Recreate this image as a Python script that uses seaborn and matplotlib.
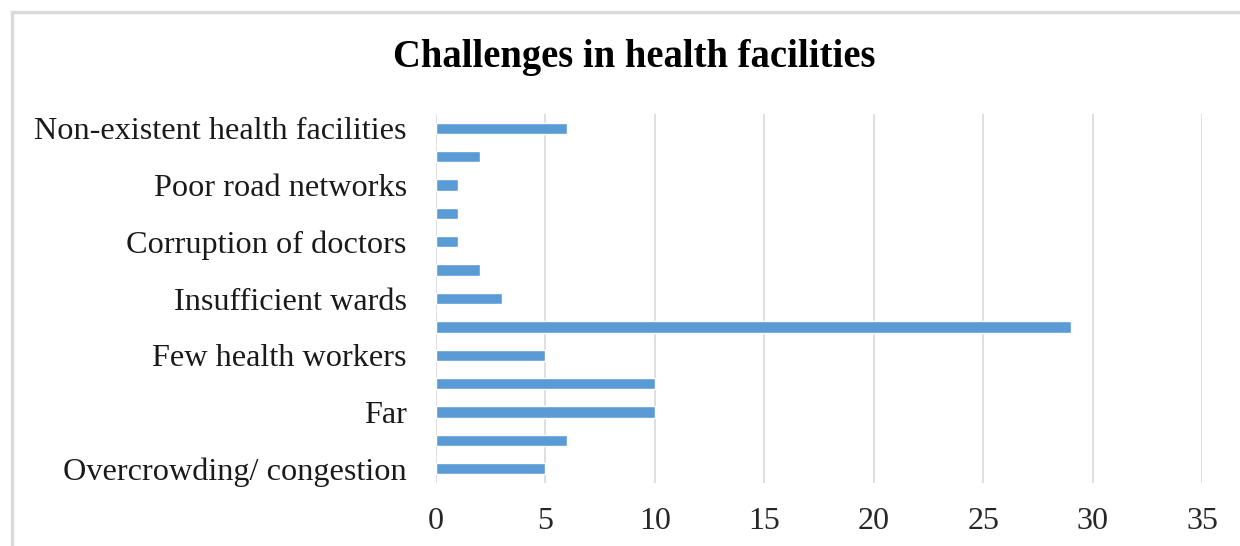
import matplotlib
matplotlib.use("Agg")
import matplotlib.pyplot as plt
import seaborn as sns
import pandas as pd
from matplotlib.patches import Rectangle

categories = [
    "Non-existent health facilities", "cat_12", "Poor road networks", "cat_10",
    "Corruption of doctors", "cat_8", "Insufficient wards", "cat_6",
    "Few health workers", "cat_4", "Far", "cat_2", "Overcrowding/ congestion",
]
tick_labels = [
    "Non-existent health facilities", "", "Poor road networks", "",
    "Corruption of doctors", "", "Insufficient wards", "",
    "Few health workers", "", "Far", "", "Overcrowding/ congestion",
]
values = [6, 2, 1, 1, 1, 2, 3, 29, 5, 10, 10, 6, 5]
x_ticks = [0, 5, 10, 15, 20, 25, 30, 35]

sns.set_theme(style="white")
plt.rcParams["font.family"] = ["Liberation Serif", "DejaVu Serif"]

df = pd.DataFrame({"category": categories, "value": values})

fig = plt.figure(figsize=(12.4, 5.46), dpi=100)
W, H = 1240, 546
ax = fig.add_axes([436 / W, 1 - 483 / H, (1202 - 436) / W, (483 - 114) / H])

sns.barplot(data=df, y="category", x="value", orient="h", color="#5B9BD5",
            saturation=1, width=0.40, ax=ax)

ax.set_xlim(0, 35)
ax.set_ylim(12.5, -0.5)
ax.set_xticks(x_ticks)
ax.set_xticklabels([str(t) for t in x_ticks], fontsize=23, color="#262626")
ax.set_yticks(range(len(categories)))
ax.set_yticklabels(tick_labels, fontsize=23.2, color="#1a1a1a")
ax.set_xlabel("")
ax.set_ylabel("")
ax.tick_params(axis="x", length=0, pad=17)
ax.tick_params(axis="y", length=0, pad=21)
ax.grid(axis="x", color="#D9D9D9", linewidth=1.2)
ax.set_axisbelow(True)
for s in ax.spines.values():
    s.set_visible(False)

fig.text(634 / W, 1 - 58 / H, "Challenges in health facilities", ha="center",
         va="center", fontsize=27.8, fontweight="bold", color="black")

fig.patches.append(Rectangle((12 / W, -0.1), 1.2, 1 - 12 / H + 0.1,
                             transform=fig.transFigure, fill=False,
                             edgecolor="#D9D9D9", linewidth=2.5))

fig.savefig("out.png", dpi=100)
